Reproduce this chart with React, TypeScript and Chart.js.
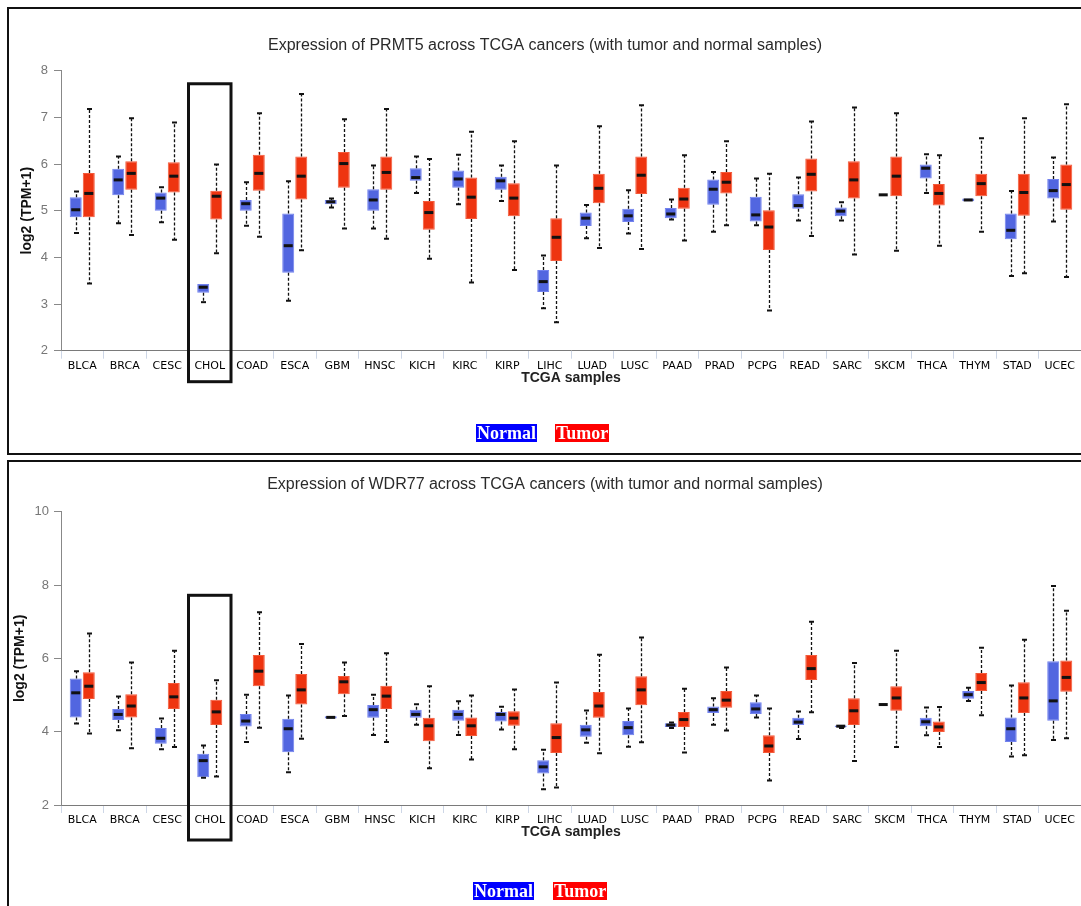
import React, { useEffect, useRef } from 'react';
import { Chart, registerables } from 'chart.js';

Chart.register(...registerables);

const categories = ['BLCA', 'BRCA', 'CESC', 'CHOL', 'COAD', 'ESCA', 'GBM', 'HNSC', 'KICH', 'KIRC', 'KIRP', 'LIHC', 'LUAD', 'LUSC', 'PAAD', 'PRAD', 'PCPG', 'READ', 'SARC', 'SKCM', 'THCA', 'THYM', 'STAD', 'UCEC'];

// PRMT5 — normal samples
const prmt5NormalMin = [4.52, 4.73, 4.75, 3.04, 4.68, 3.07, 5.07, 4.62, 5.38, 5.14, 5.21, 2.91, 4.41, 4.51, 4.81, 4.55, 4.69, 4.79, 4.79, 5.34, 5.38, 5.20, 3.60, 4.77];
const prmt5NormalQ1 = [4.86, 5.33, 5.00, 3.24, 5.00, 3.67, 5.14, 5.00, 5.64, 5.49, 5.45, 3.26, 4.67, 4.76, 4.84, 5.13, 4.77, 5.04, 4.88, 5.34, 5.69, 5.20, 4.39, 5.26];
const prmt5NormalMed = [5.02, 5.66, 5.27, 3.36, 5.15, 4.25, 5.19, 5.23, 5.71, 5.68, 5.64, 3.48, 4.84, 4.89, 4.93, 5.46, 4.91, 5.11, 4.99, 5.34, 5.91, 5.23, 4.58, 5.43];
const prmt5NormalQ3 = [5.29, 5.90, 5.39, 3.43, 5.23, 4.94, 5.23, 5.46, 5.91, 5.86, 5.73, 3.73, 4.96, 5.04, 5.06, 5.67, 5.30, 5.35, 5.07, 5.34, 5.99, 5.26, 4.94, 5.68];
const prmt5NormalMax = [5.41, 6.16, 5.50, 3.44, 5.61, 5.63, 5.26, 5.97, 6.16, 6.20, 5.97, 4.04, 5.12, 5.44, 5.24, 5.83, 5.69, 5.71, 5.18, 5.34, 6.21, 5.26, 5.42, 6.14];

// PRMT5 — tumor samples
const prmt5TumorMin = [3.44, 4.48, 4.38, 4.09, 4.44, 4.15, 4.62, 4.40, 3.97, 3.46, 3.73, 2.61, 4.20, 4.18, 4.36, 4.69, 2.86, 4.46, 4.06, 4.14, 4.25, 4.55, 3.66, 3.58];
const prmt5TumorQ1 = [4.86, 5.45, 5.39, 4.81, 5.43, 5.24, 5.49, 5.45, 4.59, 4.82, 4.88, 3.92, 5.16, 5.36, 5.04, 5.37, 4.16, 5.41, 5.26, 5.31, 5.11, 5.31, 4.89, 5.02];
const prmt5TumorMed = [5.37, 5.80, 5.74, 5.31, 5.80, 5.74, 6.01, 5.82, 4.96, 5.29, 5.27, 4.43, 5.48, 5.76, 5.25, 5.61, 4.65, 5.78, 5.66, 5.74, 5.37, 5.58, 5.39, 5.56];
const prmt5TumorQ3 = [5.81, 6.06, 6.04, 5.43, 6.20, 6.16, 6.26, 6.16, 5.21, 5.71, 5.59, 4.84, 5.79, 6.16, 5.49, 5.83, 5.01, 6.12, 6.06, 6.16, 5.57, 5.79, 5.79, 5.99];
const prmt5TumorMax = [7.18, 6.98, 6.89, 5.99, 7.09, 7.50, 6.96, 7.18, 6.11, 6.69, 6.49, 5.97, 6.81, 7.26, 6.19, 6.49, 5.79, 6.91, 7.21, 7.09, 6.19, 6.55, 6.98, 7.28];

// WDR77 — normal samples
const wdr77NormalMin = [4.22, 4.04, 3.52, 2.74, 3.72, 2.89, 4.35, 3.91, 4.19, 3.91, 4.06, 2.43, 3.70, 3.59, 4.10, 4.19, 4.39, 3.80, 4.10, 4.74, 3.90, 4.84, 3.32, 3.77];
const wdr77NormalQ1 = [4.39, 4.32, 3.67, 2.76, 4.14, 3.44, 4.36, 4.38, 4.38, 4.30, 4.28, 2.86, 3.86, 3.90, 4.13, 4.51, 4.48, 4.18, 4.12, 4.74, 4.15, 4.90, 3.72, 4.30];
const wdr77NormalMed = [5.06, 4.47, 3.82, 3.21, 4.29, 4.08, 4.39, 4.60, 4.47, 4.47, 4.47, 3.04, 4.05, 4.11, 4.18, 4.60, 4.62, 4.26, 4.15, 4.74, 4.27, 5.01, 4.08, 4.84];
const wdr77NormalQ3 = [5.45, 4.62, 4.10, 3.40, 4.48, 4.35, 4.42, 4.73, 4.60, 4.60, 4.54, 3.22, 4.19, 4.29, 4.23, 4.69, 4.80, 4.38, 4.17, 4.74, 4.38, 5.11, 4.39, 5.92];
const wdr77NormalMax = [5.65, 4.96, 4.36, 3.62, 5.01, 4.99, 4.43, 5.01, 4.75, 4.83, 4.68, 3.51, 4.58, 4.63, 4.25, 4.91, 4.99, 4.55, 4.18, 4.74, 4.66, 5.20, 5.26, 7.97];

// WDR77 — tumor samples
const wdr77TumorMin = [3.95, 3.55, 3.58, 2.78, 4.11, 3.81, 4.43, 3.72, 3.00, 3.24, 3.52, 2.48, 3.41, 3.71, 3.43, 4.03, 2.67, 4.53, 3.20, 3.58, 3.58, 4.45, 3.36, 3.82];
const wdr77TumorQ1 = [4.89, 4.39, 4.62, 4.18, 5.24, 4.74, 5.02, 4.62, 3.74, 3.88, 4.16, 3.42, 4.38, 4.72, 4.13, 4.65, 3.42, 5.41, 4.18, 4.57, 3.99, 5.11, 4.51, 5.09];
const wdr77TumorMed = [5.24, 4.70, 4.95, 4.54, 5.65, 5.14, 5.36, 4.97, 4.16, 4.16, 4.37, 3.84, 4.70, 5.14, 4.33, 4.86, 3.61, 5.72, 4.57, 4.92, 4.13, 5.34, 4.92, 5.48];
const wdr77TumorQ3 = [5.62, 5.02, 5.33, 4.87, 6.09, 5.57, 5.52, 5.25, 4.38, 4.39, 4.56, 4.23, 5.08, 5.51, 4.54, 5.11, 3.90, 6.09, 4.91, 5.24, 4.28, 5.60, 5.35, 5.94];
const wdr77TumorMax = [6.68, 5.89, 6.21, 5.40, 7.26, 6.39, 5.89, 6.14, 5.24, 4.99, 5.15, 5.34, 6.10, 6.57, 5.17, 5.75, 4.63, 7.00, 5.87, 6.21, 4.67, 6.29, 6.51, 7.30];

const highlightCategory = 'CHOL';

type Stats = { min: number[]; q1: number[]; med: number[]; q3: number[]; max: number[] };

const NORMAL_FILL = '#5266E0';
const NORMAL_EDGE = '#7282EE';
const TUMOR_FILL = '#EE3410';
const TUMOR_EDGE = '#F45A3A';

const boxPlugin = {
  id: 'boxWhiskers',
  afterDatasetsDraw(chart: any) {
    const ctx = chart.ctx;
    const ys = chart.scales.y;
    chart.data.datasets.forEach((ds: any, d: number) => {
      const meta = chart.getDatasetMeta(d);
      const st: Stats = ds.stats;
      meta.data.forEach((el: any, i: number) => {
        const { x, width } = el.getProps(['x', 'width'], true);
        const xc = Math.round(x) + 0.5;
        const yMin = ys.getPixelForValue(st.min[i]);
        const yQ1 = ys.getPixelForValue(st.q1[i]);
        const yMed = ys.getPixelForValue(st.med[i]);
        const yQ3 = ys.getPixelForValue(st.q3[i]);
        const yMax = ys.getPixelForValue(st.max[i]);
        ctx.save();
        ctx.strokeStyle = '#111';
        ctx.lineWidth = 1.3;
        ctx.setLineDash([3, 2]);
        ctx.beginPath();
        if (yQ3 - yMax > 0.5) {
          ctx.moveTo(xc, yQ3);
          ctx.lineTo(xc, yMax);
        }
        if (yMin - yQ1 > 0.5) {
          ctx.moveTo(xc, yQ1);
          ctx.lineTo(xc, yMin);
        }
        ctx.stroke();
        ctx.setLineDash([]);
        ctx.lineWidth = 2;
        ctx.beginPath();
        if (yQ3 - yMax > 0.5) {
          ctx.moveTo(xc - 2.5, yMax);
          ctx.lineTo(xc + 2.5, yMax);
        }
        if (yMin - yQ1 > 0.5) {
          ctx.moveTo(xc - 2.5, yMin);
          ctx.lineTo(xc + 2.5, yMin);
        }
        ctx.stroke();
        ctx.lineWidth = 3;
        ctx.beginPath();
        ctx.moveTo(x - width / 2 + 1.5, yMed);
        ctx.lineTo(x + width / 2 - 1.5, yMed);
        ctx.stroke();
        ctx.restore();
      });
    });
  },
};

const highlightPlugin = {
  id: 'highlightBox',
  afterDraw(chart: any, _args: any, opts: any) {
    const xs = chart.scales.x;
    const ys = chart.scales.y;
    const idx = categories.indexOf(opts.category);
    if (idx < 0) return;
    const catW = xs.getPixelForValue(1) - xs.getPixelForValue(0);
    const cx = xs.getPixelForValue(idx);
    const top = ys.getPixelForValue(opts.topValue);
    const bottom = chart.chartArea.bottom + opts.bottomOffset;
    const ctx = chart.ctx;
    ctx.save();
    ctx.strokeStyle = '#111';
    ctx.lineWidth = 3;
    ctx.strokeRect(cx - catW / 2, top, catW, bottom - top);
    ctx.restore();
  },
};

type PanelProps = {
  title: string;
  yMin: number;
  yMax: number;
  yStep: number;
  normal: Stats;
  tumor: Stats;
  top: number;
  titlePad: { top: number; bottom: number };
  yTitlePad: number;
  yTickPad: number;
  chartBottomPad: number;
  highlightBottom: number;
  legendTop: number;
  legendNormalLeft: number;
  legendTumorLeft: number;
  borderHeight: number;
};

const CANVAS_W = 1084;
const CANVAS_H = 444;

function BoxPanel(p: PanelProps) {
  const ref = useRef<HTMLCanvasElement | null>(null);
  useEffect(() => {
    if (!ref.current) return;
    const mk = (label: string, st: Stats, fill: string, edge: string) => ({
      label,
      data: st.q1.map((v, i) => [v, st.q3[i]]),
      backgroundColor: fill,
      borderColor: edge,
      borderWidth: 1,
      borderSkipped: false,
      categoryPercentage: 0.614,
      barPercentage: 0.92,
      stats: st,
    });
    const chart = new Chart(ref.current, {
      type: 'bar',
      data: {
        labels: categories,
        datasets: [mk('Normal', p.normal, NORMAL_FILL, NORMAL_EDGE), mk('Tumor', p.tumor, TUMOR_FILL, TUMOR_EDGE)] as any,
      },
      options: {
        responsive: false,
        animation: false,
        devicePixelRatio: 1,
        layout: { padding: { left: 0, right: 12, top: 0, bottom: p.chartBottomPad } },
        plugins: {
          legend: { display: false },
          tooltip: { enabled: false },
          title: {
            display: true,
            text: p.title,
            color: '#2a2a2a',
            font: { family: 'Liberation Sans, Arial, sans-serif', size: 16, weight: 'normal' },
            padding: p.titlePad,
          },
          highlightBox: { category: highlightCategory, topValue: 7.72, bottomOffset: p.highlightBottom },
        } as any,
        scales: {
          x: {
            type: 'category',
            offset: true,
            grid: { display: true, drawOnChartArea: false, drawTicks: true, tickLength: 8, color: '#cdd6e6', offset: true },
            border: { display: true, color: '#7a7a7a', width: 1 },
            ticks: {
              color: '#000',
              font: { family: 'DejaVu Sans, Verdana, sans-serif', size: 11 },
              padding: 1,
              maxRotation: 0,
              autoSkip: false,
            },
            title: {
              display: true,
              text: 'TCGA samples',
              color: '#222',
              font: { family: 'Liberation Sans, Arial, sans-serif', size: 14, weight: 'bold' },
              padding: { top: 0, bottom: 0.4 },
            },
            afterFit: (s: any) => {
              s.height = 36;
            },
          },
          y: {
            min: p.yMin,
            max: p.yMax,
            ticks: {
              stepSize: p.yStep,
              color: '#777',
              font: { family: 'Liberation Sans, Arial, sans-serif', size: 13 },
              padding: p.yTickPad,
            },
            grid: { display: true, drawOnChartArea: false, drawTicks: true, tickLength: 7, color: '#888' },
            border: { display: true, color: '#888', width: 1 },
            title: {
              display: true,
              text: 'log2 (TPM+1)',
              color: '#111',
              font: { family: 'Liberation Sans, Arial, sans-serif', size: 14, weight: 'bold' },
              padding: { top: p.yTitlePad, bottom: 0 },
            },
            afterFit: (s: any) => {
              s.width = 52;
            },
          },
        },
      } as any,
      plugins: [boxPlugin, highlightPlugin],
    });
    return () => chart.destroy();
  }, []);

  const legendStyle = (left: number, bg: string): React.CSSProperties => ({
    position: 'absolute',
    left,
    top: p.legendTop,
    background: bg,
    color: '#fff',
    fontFamily: '"Liberation Serif", "Times New Roman", serif',
    fontWeight: 'bold',
    fontSize: 18,
    lineHeight: '18px',
    padding: '0 1px',
    whiteSpace: 'nowrap',
  });

  return (
    <>
      <div
        style={{
          position: 'absolute',
          left: 7,
          top: p.top - 2,
          width: 1120,
          height: p.borderHeight,
          border: '2px solid #111',
          boxSizing: 'content-box',
        }}
      />
      <canvas
        ref={ref}
        width={CANVAS_W}
        height={CANVAS_H}
        style={{ position: 'absolute', left: 9, top: p.top, width: CANVAS_W, height: CANVAS_H }}
      />
      <span style={legendStyle(p.legendNormalLeft, '#0000FF')}>Normal</span>
      <span style={legendStyle(p.legendTumorLeft, '#FF0000')}>Tumor</span>
    </>
  );
}

export default function App() {
  return (
    <div
      style={{
        position: 'fixed',
        left: 0,
        top: 0,
        width: 1081,
        height: 906,
        overflow: 'hidden',
        background: '#fff',
      }}
    >
      <BoxPanel
        title="Expression of PRMT5 across TCGA cancers (with tumor and normal samples)"
        yMin={2}
        yMax={8}
        yStep={1}
        normal={{ min: prmt5NormalMin, q1: prmt5NormalQ1, med: prmt5NormalMed, q3: prmt5NormalQ3, max: prmt5NormalMax }}
        tumor={{ min: prmt5TumorMin, q1: prmt5TumorQ1, med: prmt5TumorMed, q3: prmt5TumorQ3, max: prmt5TumorMax }}
        top={9}
        titlePad={{ top: 26.7, bottom: 15.8 }}
        yTitlePad={10.1}
        yTickPad={6}
        chartBottomPad={66.3}
        highlightBottom={31}
        legendTop={424}
        legendNormalLeft={476}
        legendTumorLeft={555}
        borderHeight={444}
      />
      <BoxPanel
        title="Expression of WDR77 across TCGA cancers (with tumor and normal samples)"
        yMin={2}
        yMax={10}
        yStep={2}
        normal={{ min: wdr77NormalMin, q1: wdr77NormalQ1, med: wdr77NormalMed, q3: wdr77NormalQ3, max: wdr77NormalMax }}
        tumor={{ min: wdr77TumorMin, q1: wdr77TumorQ1, med: wdr77TumorMed, q3: wdr77TumorQ3, max: wdr77TumorMax }}
        top={462}
        titlePad={{ top: 13.4, bottom: 17.1 }}
        yTitlePad={3.1}
        yTickPad={5}
        chartBottomPad={65}
        highlightBottom={35}
        legendTop={882}
        legendNormalLeft={473}
        legendTumorLeft={553}
        borderHeight={600}
      />
    </div>
  );
}
